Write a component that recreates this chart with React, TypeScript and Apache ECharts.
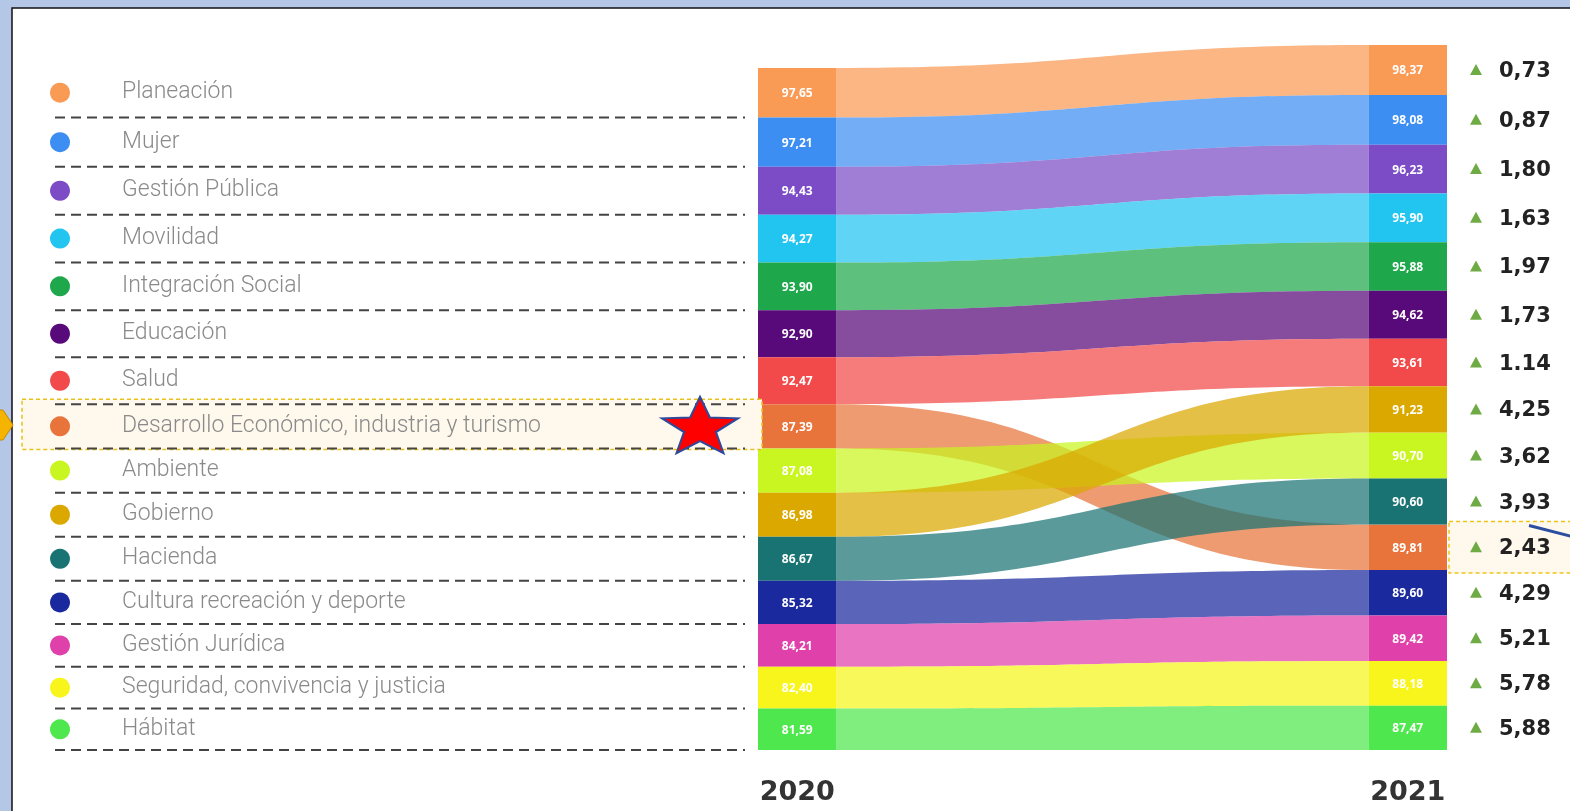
import React, { useEffect, useRef } from "react";
import * as echarts from "echarts";

const categories = [
  "Planeación",
  "Mujer",
  "Gestión Pública",
  "Movilidad",
  "Integración Social",
  "Educación",
  "Salud",
  "Desarrollo Económico, industria y turismo",
  "Ambiente",
  "Gobierno",
  "Hacienda",
  "Cultura recreación y deporte",
  "Gestión Jurídica",
  "Seguridad, convivencia y justicia",
  "Hábitat",
];
const values2020 = [97.65, 97.21, 94.43, 94.27, 93.9, 92.9, 92.47, 87.39, 87.08, 86.98, 86.67, 85.32, 84.21, 82.4, 81.59];
const values2021 = [98.37, 98.08, 96.23, 95.9, 95.88, 94.62, 93.61, 89.81, 90.7, 91.23, 90.6, 89.6, 89.42, 88.18, 87.47];
const deltaLabels = ["0,73", "0,87", "1,80", "1,63", "1,97", "1,73", "1.14", "2,43", "3,62", "4,25", "3,93", "4,29", "5,21", "5,78", "5,88"];
const years = ["2020", "2021"];
const colors = [
  "#f99a55", "#3d8ef2", "#7b4cc6", "#22c4f0", "#1fa84b", "#58097a", "#f24a4a",
  "#e8743c", "#c9f520", "#dba800", "#1a7373", "#1a2a9e", "#e040aa", "#f7f51c", "#4ee84e",
];
const highlightIndex = 7;

const COL = 0.114;

function stack(vals: number[]) {
  const total = vals.reduce((s, v) => s + v, 0);
  const order = vals.map((_, i) => i).sort((a, b) => vals[b] - vals[a]);
  const y0 = new Array(vals.length).fill(0);
  const y1 = new Array(vals.length).fill(0);
  let top = total;
  order.forEach((i) => {
    y1[i] = top;
    y0[i] = top - vals[i];
    top -= vals[i];
  });
  return { total, y0, y1 };
}

const fmt = (v: number) => v.toFixed(2).replace(".", ",");

export default function App() {
  const ref = useRef<HTMLDivElement>(null);
  useEffect(() => {
    if (!ref.current) return;
    const chart = echarts.init(ref.current, null, { renderer: "svg" });
    const s20 = stack(values2020);
    const s21 = stack(values2021);
    const yMax = Math.max(s20.total, s21.total);
    const data = categories.map((_, i) => [i, s20.y0[i], s20.y1[i], s21.y0[i], s21.y1[i]]);

    const bandSeries: any = {
      type: "custom",
      z: 2,
      clip: false,
      data,
      renderItem: (params: any, api: any) => {
        const i = api.value(0);
        const a0 = api.value(1), a1 = api.value(2), b0 = api.value(3), b1 = api.value(4);
        const [ax, aTop] = api.coord([COL, a1]);
        const aBot = api.coord([COL, a0])[1];
        const [bx, bTop] = api.coord([1 - COL, b1]);
        const bBot = api.coord([1 - COL, b0])[1];
        const m = (ax + bx) / 2;
        const d = `M${ax},${aTop} C${m},${aTop} ${m},${bTop} ${bx},${bTop} L${bx},${bBot} C${m},${bBot} ${m},${aBot} ${ax},${aBot} Z`;
        return {
          type: "path",
          shape: { pathData: d },
          style: { fill: colors[i], opacity: 0.72 },
        };
      },
    };

    const nodeSeries: any = {
      type: "custom",
      z: 3,
      clip: false,
      data,
      renderItem: (params: any, api: any) => {
        const i = api.value(0);
        const a0 = api.value(1), a1 = api.value(2), b0 = api.value(3), b1 = api.value(4);
        const [xl, aTop] = api.coord([0, a1]);
        const aBot = api.coord([0, a0])[1];
        const xa = api.coord([COL, 0])[0];
        const xb = api.coord([1 - COL, 0])[0];
        const [xr, bTop] = api.coord([1, b1]);
        const bBot = api.coord([1, b0])[1];
        const yb = api.coord([0, 0])[1];
        const children: any[] = [
          { type: "rect", shape: { x: xl, y: aTop, width: xa - xl, height: aBot - aTop }, style: { fill: colors[i] } },
          { type: "rect", shape: { x: xb, y: bTop, width: xr - xb, height: bBot - bTop }, style: { fill: colors[i] } },
          {
            type: "text",
            style: {
              x: (xl + xa) / 2, y: (aTop + aBot) / 2, text: fmt(values2020[i]),
              fill: "#ffffff", fontSize: 12, fontWeight: "bold", fontFamily: "Noto Sans",
              align: "center", verticalAlign: "middle",
            },
          },
          {
            type: "text",
            style: {
              x: (xb + xr) / 2, y: (bTop + bBot) / 2, text: fmt(values2021[i]),
              fill: "#ffffff", fontSize: 12, fontWeight: "bold", fontFamily: "Noto Sans",
              align: "center", verticalAlign: "middle",
            },
          },
        ];
        const yc = (bTop + bBot) / 2;
        children.push({
          type: "polygon",
          shape: { points: [[xr + 23, yc + 5], [xr + 35, yc + 5], [xr + 29, yc - 6]] },
          style: { fill: "#6fab45" },
        });
        children.push({
          type: "text",
          style: {
            x: xr + 52, y: yc, text: deltaLabels[i], fill: "#222222", fontSize: 21,
            fontWeight: "bold", fontFamily: "DejaVu Sans", align: "left", verticalAlign: "middle",
          },
        });
        if (i === highlightIndex) {
          children.push({
            type: "rect",
            z2: -1,
            shape: { x: xr + 2, y: bTop - 3, width: 140, height: bBot - bTop + 6 },
            style: { fill: "#fff8ec", stroke: "#f0c419", lineWidth: 1.5, lineDash: [4, 3] },
          });
          children.push({
            type: "line",
            shape: { x1: xr + 82, y1: bTop + 1, x2: 1572, y2: bTop + 12 },
            style: { stroke: "#2b4ea0", lineWidth: 3 },
          });
        }
        if (i === 0) {
          children.push({
            type: "text",
            style: {
              x: (xl + xa) / 2, y: yb + 40, text: years[0], fill: "#333333", fontSize: 27,
              fontWeight: "bold", fontFamily: "DejaVu Sans", align: "center", verticalAlign: "middle",
            },
          });
          children.push({
            type: "text",
            style: {
              x: (xb + xr) / 2, y: yb + 40, text: years[1], fill: "#333333", fontSize: 27,
              fontWeight: "bold", fontFamily: "DejaVu Sans", align: "center", verticalAlign: "middle",
            },
          });
        }
        return { type: "group", children };
      },
    };

    const legendSeries: any = {
      type: "custom",
      z: 4,
      clip: false,
      data,
      renderItem: (params: any, api: any) => {
        const i = api.value(0);
        const a0 = api.value(1), a1 = api.value(2);
        const top = api.coord([0, a1])[1];
        const bot = api.coord([0, a0])[1];
        const xl = api.coord([0, 0])[0];
        const yc = (top + bot) / 2;
        const children: any[] = [];
        if (i === highlightIndex) {
          children.push({
            type: "rect",
            z2: -1,
            shape: { x: 22, y: top - 5, width: xl + 4 - 22, height: bot - top + 6 },
            style: { fill: "#fff8ec", stroke: "#e8c21a", lineWidth: 1.5, lineDash: [4, 3] },
          });
        }
        children.push({ type: "circle", shape: { cx: 60, cy: yc, r: 10 }, style: { fill: colors[i] } });
        children.push({
          type: "text",
          style: {
            x: 122, y: yc - 2, text: categories[i], fill: "#8a8a8a", fontSize: 23,
            fontWeight: 300, fontFamily: "Roboto", align: "left", verticalAlign: "middle",
          },
        });
        children.push({
          type: "line",
          shape: { x1: 55, y1: bot, x2: xl - 13, y2: bot },
          style: { stroke: "#444444", lineWidth: 2, lineDash: [10, 6] },
        });
        return { type: "group", children };
      },
    };

    const R = 40;
    const starPts: number[][] = [];
    for (let k = 0; k < 10; k++) {
      const ang = -Math.PI / 2 + (k * Math.PI) / 5;
      const r = k % 2 === 0 ? R : R * 0.42;
      starPts.push([700 + r * Math.cos(ang), 424 + r * 0.78 * Math.sin(ang) + 4]);
    }

    chart.setOption({
      animation: false,
      graphic: [
        { type: "rect", z: -10, shape: { x: 0, y: 0, width: 1570, height: 811 }, style: { fill: "#b4c7e7" } },
        { type: "rect", z: -9, shape: { x: 12, y: 8, width: 1570, height: 820 }, style: { fill: "#ffffff", stroke: "#111111", lineWidth: 1.5 } },
        { type: "polygon", z: 50, shape: { points: [[-2, 410], [3, 410], [13, 425], [3, 440], [-2, 440]] }, style: { fill: "#f5b400", stroke: "#c98a00", lineWidth: 1 } },
        { type: "polygon", z: 100, shape: { points: starPts }, style: { fill: "#ff0000", stroke: "#2e4a9a", lineWidth: 2 } },
      ],
      grid: { left: 758, right: 123, top: 45, bottom: 61 },
      xAxis: { type: "value", min: 0, max: 1, show: false },
      yAxis: { type: "value", min: 0, max: yMax, show: false },
      series: [bandSeries, nodeSeries, legendSeries],
    });
    return () => chart.dispose();
  }, []);
  return <div ref={ref} style={{ position: "fixed", left: 0, top: 0, width: 1570, height: 811 }} />;
}
